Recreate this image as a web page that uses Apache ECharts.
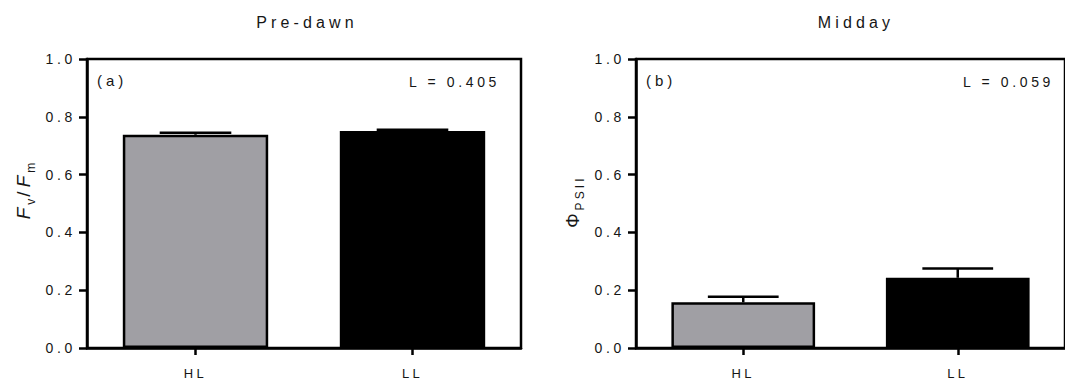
<!DOCTYPE html>
<html>
<head>
<meta charset="utf-8">
<script src="https://cdn.jsdelivr.net/npm/echarts@6/dist/echarts.min.js"></script>
<style>
  html, body { margin: 0; padding: 0; background: #fff; }
  #chart { width: 1065px; height: 388px; }
  /* widely tracked lettering used throughout the figure */
  #chart svg text { letter-spacing: 0.26em; }
</style>
</head>
<body>
<div id="chart"></div>
<script>
// Light treatments
const categories = ['HL', 'LL'];
const barColors = ['#a09fa4', '#000000'];

// Pre-dawn maximum PSII efficiency (Fv/Fm): mean and SE
const predawnMean = [0.738, 0.751];
const predawnErr = [0.007, 0.004];

// Midday effective PSII quantum yield: mean and SE
const middayMean = [0.158, 0.243];
const middayErr = [0.019, 0.032];

const yTicks = [0, 0.2, 0.4, 0.6, 0.8, 1.0];

const panelTitles = ['Pre-dawn', 'Midday'];
const panelTags = ['(a)', '(b)'];
const panelStats = ['L = 0.405', 'L = 0.059'];

const FONT = '"Liberation Sans", Arial, sans-serif';
const INK = '#161616';
const AXW = 2.5;

function yAxis(gridIndex, name, rich, gap, namePad) {
  return {
    type: 'value', gridIndex, min: yTicks[0], max: yTicks[yTicks.length - 1], interval: 0.2,
    name, nameLocation: 'middle', nameRotate: 90, nameGap: gap,
    nameTextStyle: { rich, fontFamily: FONT, color: INK, padding: namePad },
    axisLine: { show: true, lineStyle: { color: '#000', width: AXW } },
    axisTick: { show: true, length: 8, lineStyle: { color: '#000', width: AXW } },
    axisLabel: { fontFamily: FONT, fontSize: 14, color: INK, margin: 11,
      formatter: v => v.toFixed(1) },
    splitLine: { show: false }
  };
}

function xAxis(gridIndex) {
  return {
    type: 'category', gridIndex, data: categories,
    axisLine: { show: true, lineStyle: { color: '#000', width: AXW } },
    axisTick: { show: true, alignWithLabel: true, length: 7, lineStyle: { color: '#000', width: AXW } },
    axisLabel: { fontFamily: FONT, fontSize: 13, color: INK, margin: 19 }
  };
}

function barSeries(idx, means) {
  return {
    type: 'bar', xAxisIndex: idx, yAxisIndex: idx, barWidth: '67%', z: 3,
    data: means.map((v, i) => ({
      value: v,
      itemStyle: { color: barColors[i], borderColor: '#000', borderWidth: 2.5 }
    }))
  };
}

function errSeries(idx, means, errs) {
  return {
    type: 'custom', xAxisIndex: idx, yAxisIndex: idx, z: 2,
    data: means.map((v, i) => [i, v, v + errs[i]]),
    renderItem: function (params, api) {
      const base = api.coord([api.value(0), api.value(1)]);
      const top = api.coord([api.value(0), api.value(2)]);
      const half = api.size([1, 0])[0] * 0.165;
      const st = { stroke: '#000', lineWidth: AXW };
      return {
        type: 'group',
        children: [
          { type: 'line', shape: { x1: base[0], y1: base[1], x2: top[0], y2: top[1] }, style: st },
          { type: 'line', shape: { x1: top[0] - half, y1: top[1], x2: top[0] + half, y2: top[1] }, style: st }
        ]
      };
    }
  };
}

const grids = [
  { left: 87, top: 59, width: 434, height: 289 },
  { left: 636, top: 59, width: 435, height: 289 }
];

const fvRich = {
  F: { fontFamily: FONT, fontStyle: 'italic', fontSize: 19, color: INK, padding: [0, 1, 0, 0] },
  s: { fontFamily: FONT, fontSize: 12, color: INK, verticalAlign: 'bottom', padding: [0, 3, -4, 1] },
  n: { fontFamily: FONT, fontSize: 19, color: INK, padding: [0, 4, 0, 0] }
};
const phiRich = {
  P: { fontFamily: FONT, fontSize: 18, color: INK, padding: [0, 7, 0, 0] },
  s: { fontFamily: FONT, fontSize: 12, color: INK, verticalAlign: 'bottom', padding: [0, 0, -4, 0] }
};

// panel headings, panel letters and test statistics
const centers = [304, 853];
const graphics = [];
grids.forEach((g, i) => {
  graphics.push({ type: 'text', x: centers[i] + 3, y: 22,
    style: { text: panelTitles[i], font: '16px ' + FONT, fill: INK, textAlign: 'center', textVerticalAlign: 'middle' } });
  graphics.push({ type: 'text', x: g.left + 10, y: 80,
    style: { text: panelTags[i], font: '15px ' + FONT, fill: INK, textAlign: 'left', textVerticalAlign: 'middle' } });
});
graphics.push({ type: 'text', x: 500, y: 82,
  style: { text: panelStats[0], font: '14px ' + FONT, fill: INK, textAlign: 'right', textVerticalAlign: 'middle' } });
graphics.push({ type: 'text', x: 1054, y: 82,
  style: { text: panelStats[1], font: '14px ' + FONT, fill: INK, textAlign: 'right', textVerticalAlign: 'middle' } });

const option = {
  animation: false,
  backgroundColor: '#fff',
  grid: grids.map(g => Object.assign({ show: true, borderColor: '#000', borderWidth: AXW, backgroundColor: 'transparent' }, g)),
  xAxis: [xAxis(0), xAxis(1)],
  yAxis: [
    yAxis(0, '{F|F}{s|v}{n|/}{F|F}{s|m}', fvRich, 54, [0, 0, 0, 32]),
    yAxis(1, '{P|Φ}{s|PSII}', phiRich, 54, [0, 0, 0, 0])
  ],
  series: [
    barSeries(0, predawnMean), errSeries(0, predawnMean, predawnErr),
    barSeries(1, middayMean), errSeries(1, middayMean, middayErr)
  ],
  graphic: graphics
};

const chart = echarts.init(document.getElementById('chart'), null, { renderer: 'svg' });
chart.setOption(option);
</script>
</body>
</html>
